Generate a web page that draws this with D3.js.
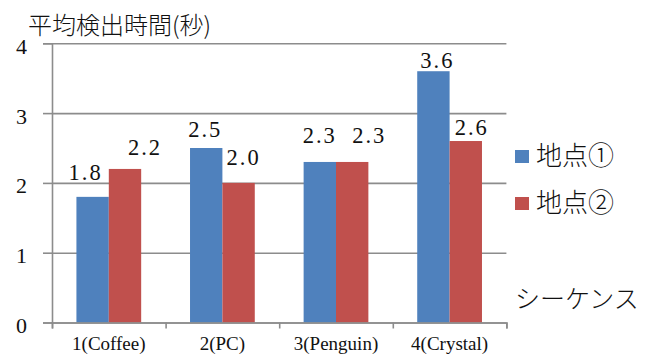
<!DOCTYPE html>
<html>
<head>
<meta charset="utf-8">
<script src="https://cdn.jsdelivr.net/npm/d3@7"></script>
<style>
  html, body { margin: 0; padding: 0; background: #fff; }
  svg { display: block; }
  .num { font-family: "Liberation Serif", "Times New Roman", serif; fill: #111; }
  .jp { font-family: "Noto Sans CJK JP", sans-serif; fill: #111; font-weight: 300; }
</style>
</head>
<body>
<svg id="chart" width="646" height="356"></svg>
<script>
// Average detection time (seconds) per sequence, at two sites
const categories = ["1(Coffee)", "2(PC)", "3(Penguin)", "4(Crystal)"];
const seriesNames = ["地点①", "地点②"];
const site1 = [1.8, 2.5, 2.3, 3.6];
const site2 = [2.2, 2.0, 2.3, 2.6];
const yTicks = [0, 1, 2, 3, 4];

const colors = ["#4f81bd", "#c0504d"];
// per-label nudges [dx, dy] for the value labels, relative to each bar top-centre
const labelNudge = [
  [[-8, -17], [-2, -11], [-1, -19], [3, -3]],
  [[19, -14], [4, -18], [16, -19], [5, -6]]
];

const svg = d3.select("#chart");
const plot = { left: 52, right: 506.4, top: 43.3, bottom: 322.5 };

const y = d3.scaleLinear().domain([0, 4]).range([plot.bottom, plot.top]);
const x0 = d3.scaleBand().domain(categories)
  .range([plot.left, plot.right]).paddingInner(0.43).paddingOuter(0.215);
const x1 = d3.scaleBand().domain(seriesNames).range([0, x0.bandwidth()]);
const edges = d3.scaleLinear().domain([0, categories.length]).range([plot.left, plot.right]);

const gridColor = "#8c8c8c";

// horizontal gridlines
svg.append("g")
  .attr("transform", `translate(${plot.left},0)`)
  .call(d3.axisLeft(y).tickValues(yTicks).tickSize(-(plot.right - plot.left)).tickFormat(""))
  .call(g => g.select(".domain").remove())
  .call(g => g.selectAll("line").attr("stroke", gridColor).attr("stroke-width", 1.6));

// bars
const series = [site1, site2];
series.forEach((vals, si) => {
  svg.append("g").selectAll("rect")
    .data(vals)
    .join("rect")
    .attr("x", (d, i) => x0(categories[i]) + x1(seriesNames[si]))
    .attr("y", d => y(d))
    .attr("width", x1.bandwidth())
    .attr("height", d => y(0) - y(d))
    .attr("fill", colors[si]);
});

// y axis
svg.append("g")
  .attr("transform", `translate(${plot.left},0)`)
  .attr("font-family", null)
  .call(d3.axisLeft(y).tickValues(yTicks).tickSize(9).tickFormat(d3.format("d")))
  .call(g => g.select(".domain").attr("stroke", gridColor).attr("stroke-width", 1.6))
  .call(g => g.selectAll("line").attr("stroke", gridColor).attr("stroke-width", 1.6))
  .call(g => g.selectAll("text")
    .attr("class", "num")
    .attr("x", -25)
    .attr("dy", "0.45em")
    .style("font-family", "'Liberation Serif', serif")
    .style("font-size", "22px")
    .attr("fill", "#111"));

// x axis: boundary ticks between categories
svg.append("g")
  .attr("transform", `translate(0,${plot.bottom})`)
  .call(d3.axisBottom(edges).ticks(categories.length).tickSize(6).tickFormat(""))
  .call(g => g.select(".domain").attr("stroke", gridColor).attr("stroke-width", 1.6))
  .call(g => g.selectAll("line").attr("stroke", gridColor).attr("stroke-width", 1.6));

// category labels
svg.append("g")
  .attr("transform", `translate(0,${plot.bottom})`)
  .call(d3.axisBottom(x0).tickSize(0).tickPadding(0))
  .call(g => g.select(".domain").remove())
  .call(g => g.selectAll("text")
    .attr("class", "num")
    .attr("y", 27.5)
    .attr("dy", 0)
    .attr("fill", "#111")
    .style("font-family", "'Liberation Serif', serif")
    .style("font-size", "19px"));

// value labels
series.forEach((vals, si) => {
  svg.append("g").selectAll("text")
    .data(vals)
    .join("text")
    .attr("class", "num")
    .attr("text-anchor", "middle")
    .attr("x", (d, i) => x0(categories[i]) + x1(seriesNames[si]) + x1.bandwidth() / 2 + labelNudge[si][i][0] + 1)
    .attr("y", (d, i) => y(d) + labelNudge[si][i][1])
    .style("font-size", "22.5px")
    .style("letter-spacing", "2px")
    .text(d => d3.format(".1f")(d));
});

// title
svg.append("text")
  .attr("class", "jp")
  .attr("x", 28)
  .attr("y", 34)
  .style("font-size", "24px")
  .text("平均検出時間(秒)");

// legend
const legend = svg.append("g").selectAll("g")
  .data(seriesNames)
  .join("g")
  .attr("transform", (d, i) => `translate(515,${150 + i * 47})`);
legend.append("rect")
  .attr("width", 14).attr("height", 13)
  .attr("fill", (d, i) => colors[i]);
legend.append("text")
  .attr("class", "jp")
  .attr("x", 21)
  .attr("y", 15)
  .style("font-size", "26px")
  .text(d => d);

// x axis title
svg.append("text")
  .attr("class", "jp")
  .attr("x", 515)
  .attr("y", 307.5)
  .style("font-size", "25px")
  .text("シーケンス");
</script>
</body>
</html>
